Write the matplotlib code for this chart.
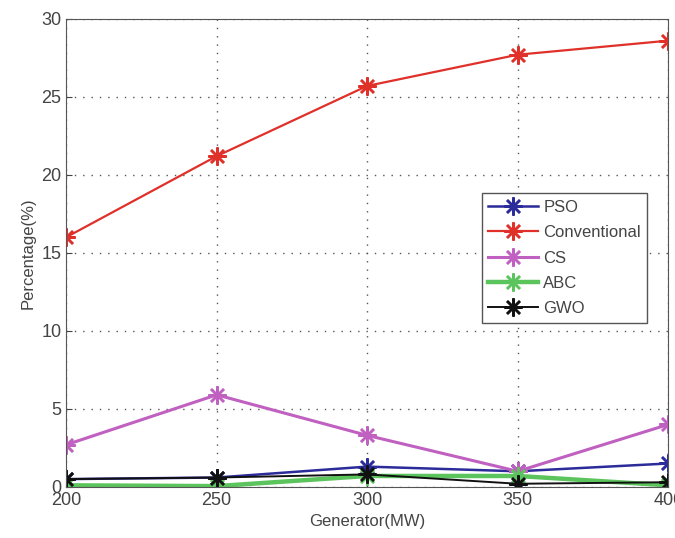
import matplotlib

matplotlib.use("Agg")

import matplotlib.pyplot as plt

plt.rcParams["font.family"] = ["Liberation Sans", "DejaVu Sans"]

generator = [200, 250, 300, 350, 400]
pso = [0.5, 0.6, 1.3, 1.0, 1.5]
conventional = [16.0, 21.2, 25.7, 27.7, 28.6]
cs = [2.7, 5.9, 3.3, 1.0, 4.0]
abc = [0.1, 0.05, 0.7, 0.7, 0.1]
gwo = [0.5, 0.6, 0.8, 0.2, 0.3]

series = [
    ("PSO", pso, "#2b2b9a", 1.8),
    ("Conventional", conventional, "#e0302a", 1.6),
    ("CS", cs, "#c060c0", 2.2),
    ("ABC", abc, "#5cc45c", 3.2),
    ("GWO", gwo, "#111111", 1.4),
]

fig = plt.figure(figsize=(6.75, 5.38), dpi=100)
ax = fig.add_axes([0.098, 0.095, 0.892, 0.870])

for name, values, color, lw in series:
    ax.plot(generator, values, color=color, linewidth=lw, marker=(8, 2, 0),
            markersize=13, markeredgewidth=1.8, label=name)

ax.set_xlim(200, 400)
ax.set_ylim(0, 30)
ax.set_xticks(generator)
ax.set_yticks(range(0, 31, 5))
ax.grid(True, linestyle=(0, (1, 5)), color="#555555", linewidth=1.0)
ax.tick_params(direction="in", labelsize=13, colors="#444444", length=4)
for spine in ax.spines.values():
    spine.set_color("#555555")

ax.set_xlabel("Generator(MW)", fontsize=12, color="#444444", labelpad=4)
ax.set_ylabel("Percentage(%)", fontsize=12, color="#444444", labelpad=4)

leg = ax.legend(loc="upper left", bbox_to_anchor=(0.676, 0.645), fontsize=12,
                fancybox=False, framealpha=1, edgecolor="#555555",
                handlelength=3.0, borderpad=0.4, labelspacing=0.62,
                handletextpad=0.3)
for text in leg.get_texts():
    text.set_color("#444444")

fig.savefig("out.png", dpi=100)
